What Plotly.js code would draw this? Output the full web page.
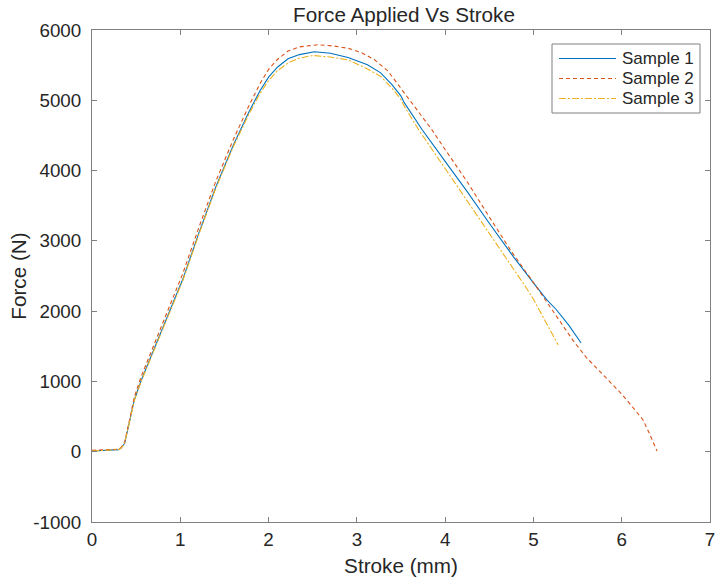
<!DOCTYPE html>
<html>
<head>
<meta charset="utf-8">
<script src="https://cdn.plot.ly/plotly-3.0.1.min.js"></script>
<style>
  html, body { margin: 0; padding: 0; background: #ffffff; }
  #chart { width: 717px; height: 581px; }
</style>
</head>
<body>
<div id="chart"></div>
<script>
// Stroke (mm) and Force (N)
const sample1Stroke = [0, 0.1, 0.2, 0.3, 0.33, 0.37, 0.43, 0.48, 0.56, 0.8, 1.03, 1.21, 1.40, 1.6, 1.78, 1.9, 2.0, 2.1, 2.22, 2.35, 2.52, 2.7, 2.9, 3.12, 3.27, 3.4, 3.5, 3.535, 3.74, 4.0, 4.25, 4.5, 4.77, 5.02, 5.15, 5.26, 5.4, 5.54];
const sample1Force  = [10, 15, 20, 30, 50, 120, 455, 740, 1024, 1760, 2460, 3110, 3760, 4360, 4840, 5130, 5330, 5470, 5590, 5650, 5690, 5670, 5610, 5505, 5390, 5220, 5060, 4970, 4580, 4130, 3700, 3250, 2780, 2370, 2165, 2020, 1800, 1546];

const sample2Stroke = [0, 0.1, 0.2, 0.3, 0.33, 0.37, 0.43, 0.48, 0.56, 0.8, 1.03, 1.21, 1.40, 1.6, 1.78, 1.9, 2.0, 2.1, 2.22, 2.35, 2.56, 2.75, 2.9, 3.05, 3.2, 3.35, 3.5, 3.65, 3.85, 4.0, 4.25, 4.5, 4.75, 5.01, 5.15, 5.26, 5.45, 5.6, 5.82, 6.0, 6.12, 6.24, 6.31, 6.36, 6.40];
const sample2Force  = [20, 25, 30, 35, 60, 140, 480, 780, 1080, 1830, 2540, 3190, 3840, 4440, 4930, 5230, 5440, 5580, 5700, 5760, 5790, 5770, 5740, 5680, 5576, 5420, 5170, 4920, 4580, 4300, 3840, 3340, 2850, 2390, 2130, 1930, 1580, 1340, 1050, 820, 640, 455, 270, 120, 10];

const sample3Stroke = [0, 0.1, 0.2, 0.3, 0.33, 0.37, 0.43, 0.48, 0.56, 0.8, 1.03, 1.21, 1.40, 1.6, 1.78, 1.9, 2.0, 2.1, 2.22, 2.35, 2.5, 2.7, 2.9, 3.1, 3.27, 3.4, 3.5, 3.535, 3.70, 4.0, 4.25, 4.5, 4.75, 4.92, 5.0, 5.15, 5.28];
const sample3Force  = [10, 15, 20, 30, 50, 120, 450, 730, 1010, 1740, 2440, 3090, 3740, 4340, 4810, 5090, 5280, 5420, 5530, 5600, 5637, 5615, 5575, 5460, 5340, 5170, 5010, 4920, 4580, 4030, 3570, 3100, 2640, 2330, 2170, 1830, 1520];

const seriesNames = ['Sample 1', 'Sample 2', 'Sample 3'];
const seriesColors = ['#0072BD', '#D95319', '#EDB120'];
const seriesDashes = ['solid', '4px,3px', '7px,2px,2px,2px'];
const xTickVals = [0, 1, 2, 3, 4, 5, 6, 7];
const yTickVals = [-1000, 0, 1000, 2000, 3000, 4000, 5000, 6000];

const FONT = 'Liberation Sans, Arial, Helvetica, sans-serif';
const TXT = '#262626';
const AX = '#808080';
const LW = 1.1;

const strokes = [sample1Stroke, sample2Stroke, sample3Stroke];
const forces = [sample1Force, sample2Force, sample3Force];

const traces = seriesNames.map((nm, i) => ({
  x: strokes[i], y: forces[i], name: nm,
  type: 'scatter', mode: 'lines',
  line: { color: seriesColors[i], width: LW, dash: seriesDashes[i] }
}));

// Plot area in pixels (for the hand-built MATLAB-style legend box)
const PL = 92, PR = 710, PT = 30, PB = 522;
const px2x = p => (p - PL) / (PR - PL);
const px2y = p => (PB - p) / (PB - PT);

const legendRows = [58.5, 78.5, 98.5];
const shapes = [
  {
    type: 'rect', xref: 'paper', yref: 'paper',
    x0: px2x(552), x1: px2x(700), y0: px2y(113), y1: px2y(44),
    line: { color: AX, width: 1 }, fillcolor: '#ffffff', layer: 'above'
  }
];
const annotations = [];
seriesNames.forEach((nm, i) => {
  shapes.push({
    type: 'line', xref: 'paper', yref: 'paper',
    x0: px2x(559), x1: px2x(616), y0: px2y(legendRows[i]), y1: px2y(legendRows[i]),
    line: { color: seriesColors[i], width: LW, dash: seriesDashes[i] }, layer: 'above'
  });
  annotations.push({
    xref: 'paper', yref: 'paper', x: px2x(620), y: px2y(legendRows[i]),
    xanchor: 'left', yanchor: 'middle', showarrow: false,
    text: nm, font: { family: FONT, size: 17, color: TXT }
  });
});

const axisCommon = {
  showgrid: false,
  zeroline: false,
  showline: true,
  linecolor: AX,
  linewidth: 1,
  mirror: 'ticks',
  ticks: 'inside',
  ticklen: 5,
  tickwidth: 1,
  tickcolor: AX,
  ticklabeloverflow: 'allow',
  tickfont: { family: FONT, size: 18.8, color: TXT }
};

const layout = {
  width: 717,
  height: 581,
  margin: { l: PL, r: 717 - PR, t: PT, b: 581 - PB, pad: 0 },
  paper_bgcolor: '#ffffff',
  plot_bgcolor: '#ffffff',
  showlegend: false,
  title: {
    text: 'Force Applied Vs Stroke',
    font: { family: FONT, size: 20.7, color: TXT },
    x: 0.5635, xref: 'container', xanchor: 'center',
    y: 1 - 15 / 581, yref: 'container', yanchor: 'middle'
  },
  xaxis: Object.assign({}, axisCommon, {
    range: [0, 7],
    tickvals: xTickVals,
    ticktext: xTickVals.map(String),
    title: { text: 'Stroke (mm)', font: { family: FONT, size: 20.7, color: TXT }, standoff: 9 }
  }),
  yaxis: Object.assign({}, axisCommon, {
    range: [-1000, 6000],
    tickvals: yTickVals,
    ticktext: yTickVals.map(String),
    ticklabelstandoff: 6,
    title: { text: 'Force (N)', font: { family: FONT, size: 20.7, color: TXT }, standoff: 0 }
  }),
  shapes: shapes,
  annotations: annotations
};

Plotly.newPlot('chart', traces, layout, { displayModeBar: false, staticPlot: true });
</script>
</body>
</html>
